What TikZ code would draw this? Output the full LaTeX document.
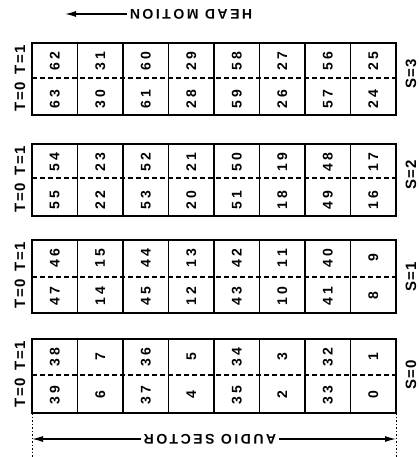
\documentclass[tikz,border=0pt]{standalone}
\usepackage{fontspec}
\setmainfont{Liberation Sans}
\newfontfamily\widefont[LetterSpace=18]{Liberation Sans}
\usetikzlibrary{arrows.meta}
\newcommand\spnum[1]{\ifnum#1>9 \the\numexpr(#1-5)/10\relax\kern3pt\the\numexpr#1-10*((#1-5)/10)\relax\else#1\fi}
\begin{document}
\begin{tikzpicture}[x=1pt,y=-1pt,
  blockbox/.style={line width=1.7pt},
  celldiv/.style={line width=1.3pt},
  halfline/.style={line width=1.4pt, dash pattern=on 5pt off 3pt},
  numlabel/.style={rotate=90, inner sep=0pt, font=\bfseries\fontsize{14}{14}\selectfont},
  sidelabel/.style={rotate=90, inner sep=0pt, font=\bfseries\fontsize{15}{15}\selectfont},
  caption/.style={rotate=180, inner sep=3pt, font=\widefont\bfseries\fontsize{14}{14}\selectfont},
  tip/.style={-{Latex[length=11pt,width=6pt]}, line width=1.3pt},
  guide/.style={line width=1pt, dash pattern=on 1.5pt off 2pt}]
\useasboundingbox (0,0) rectangle (419,457);
\foreach \s/\tp/\dsh/\bt/\sy in {3/43/78/115/74, 2/144/178/216/175, 1/240/277/313/277, 0/339/375/413/375}{
  \draw[blockbox] (32,\tp) rectangle (396,\bt);
  \foreach \i in {1,...,7}
    \draw[celldiv] ({32+45.5*\i},\tp) -- ({32+45.5*\i},\bt);
  \draw[halfline] (32,\dsh) -- (396,\dsh);
  \foreach \c in {0,...,7}{
    \ifodd\c
      \pgfmathtruncatemacro\up{7+8*\s-(\c-1)}
      \pgfmathtruncatemacro\lo{\up-1}
    \else
      \pgfmathtruncatemacro\up{38+8*\s-\c}
      \pgfmathtruncatemacro\lo{\up+1}
    \fi
    \node[numlabel] (u\s-\c) at ({54.75+45.5*\c},{\tp+18}) {\spnum{\up}};
    \node[numlabel] (l\s-\c) at ({54.75+45.5*\c},{\tp+56}) {\spnum{\lo}};
  }
  \node[sidelabel] (tone\s) at (20,{\tp+17}) {T\kern1.5pt=\kern1.5pt1};
  \node[sidelabel] (tzero\s) at (20,{\tp+54}) {T\kern1.5pt=\kern1.5pt0};
  \node[sidelabel] (slab\s) at (411,\sy) {S\kern1pt=\kern1pt\s};
}
\node[caption] (hm) at (191,14) {HEAD MOTION};
\coordinate (hmend) at (65,14);
\draw[tip] (hm) -- (hmend);
\coordinate (gl) at (32,413);
\coordinate (gle) at (32,457);
\coordinate (gr) at (396,413);
\coordinate (gre) at (396,457);
\draw[guide] (gl) -- (gle);
\draw[guide] (gr) -- (gre);
\node[caption] (as) at (210,439) {AUDIO SECTOR};
\coordinate (asl) at (32,439);
\coordinate (asr) at (396,439);
\draw[tip] (as) -- (asl);
\draw[tip] (as) -- (asr);
\end{tikzpicture}
\end{document}
